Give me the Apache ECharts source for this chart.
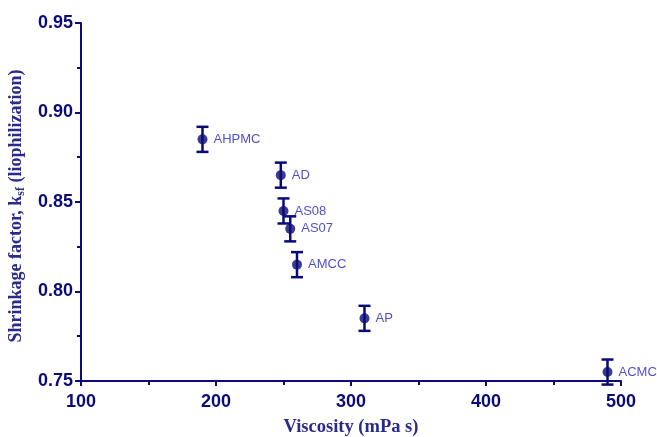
<!DOCTYPE html>
<html><head><meta charset="utf-8">
<script src="https://cdn.jsdelivr.net/npm/echarts@6/dist/echarts.min.js"></script>
<style>html,body{margin:0;padding:0;background:#fff}#c{width:657px;height:437px}</style>
</head><body><div id="c"></div>
<script>
const names = ['AHPMC','AD','AS08','AS07','AMCC','AP','ACMC'];
const viscosity = [190, 248, 250, 255, 260, 310, 490];
const ksf = [0.885, 0.865, 0.845, 0.835, 0.815, 0.785, 0.755];
const errors = [0.007, 0.007, 0.007, 0.007, 0.007, 0.007, 0.007];
const xTicks = [100, 200, 300, 400, 500];
const yTicks = [0.75, 0.80, 0.85, 0.90, 0.95];

const navy = '#0a0a78';
const chart = echarts.init(document.getElementById('c'));
const pts = names.map((n, i) => [viscosity[i], ksf[i], errors[i], n]);

chart.setOption({
  animation: false,
  grid: { left: 81, right: 36, top: 23, bottom: 56, containLabel: false, outerBoundsMode: 'none' },
  xAxis: {
    type: 'value', min: xTicks[0], max: xTicks[xTicks.length - 1], interval: 100,
    name: 'Viscosity (mPa s)', nameLocation: 'middle', nameGap: 37,
    nameTextStyle: { fontFamily: 'Liberation Serif', fontWeight: 'bold', fontSize: 18.5, color: '#2a2a8a' },
    axisLine: { lineStyle: { color: navy, width: 2 } },
    axisTick: { length: 5, lineStyle: { color: navy, width: 2 } },
    minorTick: { show: true, splitNumber: 2, length: 4, lineStyle: { color: navy, width: 2 } },
    axisLabel: { fontFamily: 'Liberation Sans', fontWeight: 'bold', fontSize: 18, color: navy, margin: 12 },
    splitLine: { show: false }
  },
  yAxis: {
    type: 'value', min: yTicks[0], max: yTicks[yTicks.length - 1], interval: 0.05,
    name: '{a|Shrinkage factor, k}{s|sf}{a| (liophilization)}', nameLocation: 'middle', nameGap: 49, nameRotate: 90,
    nameTextStyle: {
      padding: [0, 8, 0, 0],
      rich: {
        a: { fontFamily: 'Liberation Serif', fontWeight: 'bold', fontSize: 18, color: '#2a2a8a', lineHeight: 22 },
        s: { fontFamily: 'Liberation Serif', fontWeight: 'bold', fontSize: 12, color: '#2a2a8a', lineHeight: 22, verticalAlign: 'bottom' }
      }
    },
    axisLine: { show: true, lineStyle: { color: navy, width: 2 } },
    axisTick: { show: true, length: 6, lineStyle: { color: navy, width: 2 } },
    minorTick: { show: true, splitNumber: 2, length: 4, lineStyle: { color: navy, width: 2 } },
    axisLabel: { fontFamily: 'Liberation Sans', fontWeight: 'bold', fontSize: 18, color: navy, margin: 8,
      formatter: v => v.toFixed(2) },
    splitLine: { show: false }
  },
  series: [
    {
      type: 'custom',
      data: pts,
      encode: { x: 0, y: 1 },
      renderItem: (params, api) => {
        const x = api.value(0), y = api.value(1), e = api.value(2);
        const top = api.coord([x, y + e]);
        const bot = api.coord([x, y - e]);
        const hw = 6;
        const st = { stroke: navy, lineWidth: 2.5 };
        return { type: 'group', children: [
          { type: 'line', shape: { x1: top[0], y1: top[1], x2: bot[0], y2: bot[1] }, style: st },
          { type: 'line', shape: { x1: top[0]-hw, y1: top[1], x2: top[0]+hw, y2: top[1] }, style: st },
          { type: 'line', shape: { x1: bot[0]-hw, y1: bot[1], x2: bot[0]+hw, y2: bot[1] }, style: st }
        ]};
      },
      z: 2
    },
    {
      type: 'scatter',
      data: pts,
      encode: { x: 0, y: 1 },
      symbol: 'circle', symbolSize: 10,
      itemStyle: { color: navy },
      label: { show: true, position: 'right', distance: 6, formatter: p => p.value[3],
        fontFamily: 'Liberation Sans', fontSize: 13, color: '#2323c0' },
      z: 3
    }
  ]
});
</script></body></html>
